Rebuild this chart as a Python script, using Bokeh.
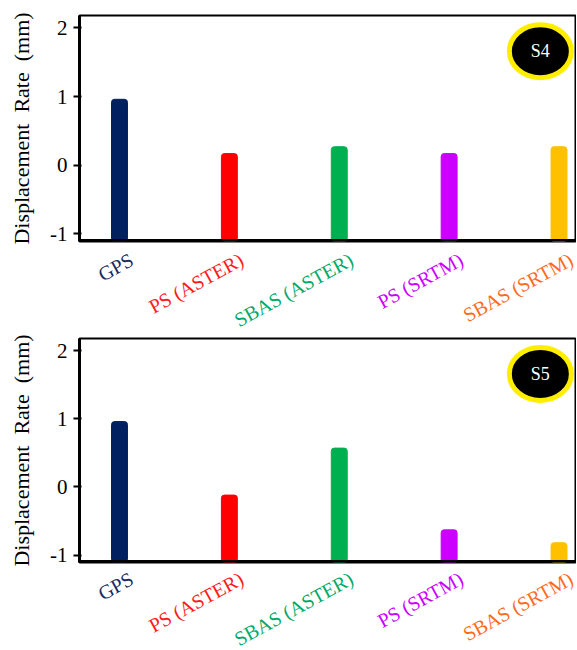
from bokeh.plotting import figure
from bokeh.layouts import column
from bokeh.models import FixedTicker, ColumnDataSource, Range1d
from bokeh.core.properties import value
from bokeh.embed import file_html
from bokeh.resources import INLINE

categories = ["GPS", "PS (ASTER)", "SBAS (ASTER)", "PS (SRTM)", "SBAS (SRTM)"]
s4_values = [0.96, 0.17, 0.27, 0.17, 0.27]
s5_values = [0.96, -0.12, 0.57, -0.63, -0.82]
bar_colors = ["#002060", "#ff0000", "#00b050", "#cc00ff", "#ffc000"]
label_colors = ["#1b2a5c", "#ff1a1a", "#00aa66", "#cc00ff", "#ff6a1a"]
y_ticks = [-1, 0, 1, 2]
y_tick_labels = {-1: "-1", 0: "0", 1: "1", 2: "2"}
y_title = "Displacement\u00a0 Rate\u00a0 (mm)"
panels = [("S4", s4_values), ("S5", s5_values)]

FONT = "Liberation Serif"
Y0, Y1 = -1.11, 2.18
X0, X1 = 0.636, 5.15
W = 576
BL, BR = 79, 1


def make_panel(name, vals, border_top, frame_h, border_bottom, x_range):
    p = figure(width=W, height=border_top + frame_h + border_bottom,
               output_backend="svg", toolbar_location=None, x_range=x_range,
               y_range=(Y0, Y1), min_border_left=BL, min_border_right=BR,
               min_border_top=border_top, min_border_bottom=border_bottom)
    xs = [i + 1 for i in range(len(categories))]
    src = ColumnDataSource(dict(x=xs, top=vals, color=bar_colors,
                                bottom=[Y0] * len(vals)))
    p.vbar(x="x", top="top", bottom="bottom", width=0.145, color="color",
           source=src, border_radius=3)
    p.xgrid.visible = False
    p.ygrid.visible = False
    p.xaxis.visible = False
    p.outline_line_color = "black"
    p.outline_line_width = 2
    p.outline_line_alpha = 1
    ax = p.yaxis[0]
    ax.ticker = FixedTicker(ticks=y_ticks)
    ax.major_label_overrides = y_tick_labels
    ax.axis_line_width = 3
    ax.axis_line_color = "black"
    ax.major_tick_out = 6
    ax.major_tick_in = 2
    ax.major_tick_line_width = 2
    ax.minor_tick_line_color = None
    ax.major_label_standoff = 6
    ax.major_label_text_font = FONT
    ax.major_label_text_font_size = "21px"
    ax.major_label_text_color = "black"
    ax.axis_label = y_title
    ax.axis_label_text_font = FONT
    ax.axis_label_text_font_size = "22px"
    ax.axis_label_text_font_style = "normal"
    ax.axis_label_text_color = "black"
    ax.axis_label_standoff = 13
    # bottom axis line
    p.segment(x0=[X0], x1=[X1], y0=[Y0], y1=[Y0], line_color="black", line_width=5)
    # badge
    bx, by = 4.83, 1.66
    p.ellipse(x=[bx], y=[by], width=62, height=53, width_units="screen",
              height_units="screen", fill_color="black", line_color="#ffee00",
              line_width=5)
    p.text(x=[bx], y=[by], text=[name], text_color="white", text_font=value(FONT),
           text_font_size="18px", text_align="center", text_baseline="middle")
    return p


def make_labels(h, x_range):
    q = figure(width=W, height=h, output_backend="svg", toolbar_location=None,
               x_range=x_range, y_range=Range1d(0, h),
               min_border_left=BL, min_border_right=BR, min_border_top=0,
               min_border_bottom=0)
    q.axis.visible = False
    q.grid.visible = False
    q.outline_line_color = None
    xs = [i + 1 for i in range(len(categories))]
    src = ColumnDataSource(dict(x=xs, y=[h - 1] * len(xs), text=categories,
                                color=label_colors))
    q.text(x="x", y="y", text="text", text_color="color", source=src,
           x_offset=7, text_font=value(FONT), text_font_size="20px",
           text_align="right", text_baseline="top", angle=0.5)
    return q


xr = Range1d(X0, X1)
p1 = make_panel(panels[0][0], panels[0][1], 15, 226, 6, xr)
l1 = make_labels(84, xr)
p2 = make_panel(panels[1][0], panels[1][1], 7, 224, 4, xr)
l2 = make_labels(84, xr)
layout = column(p1, l1, p2, l2, spacing=0)
open("out.html", "w").write(file_html(layout, INLINE))
